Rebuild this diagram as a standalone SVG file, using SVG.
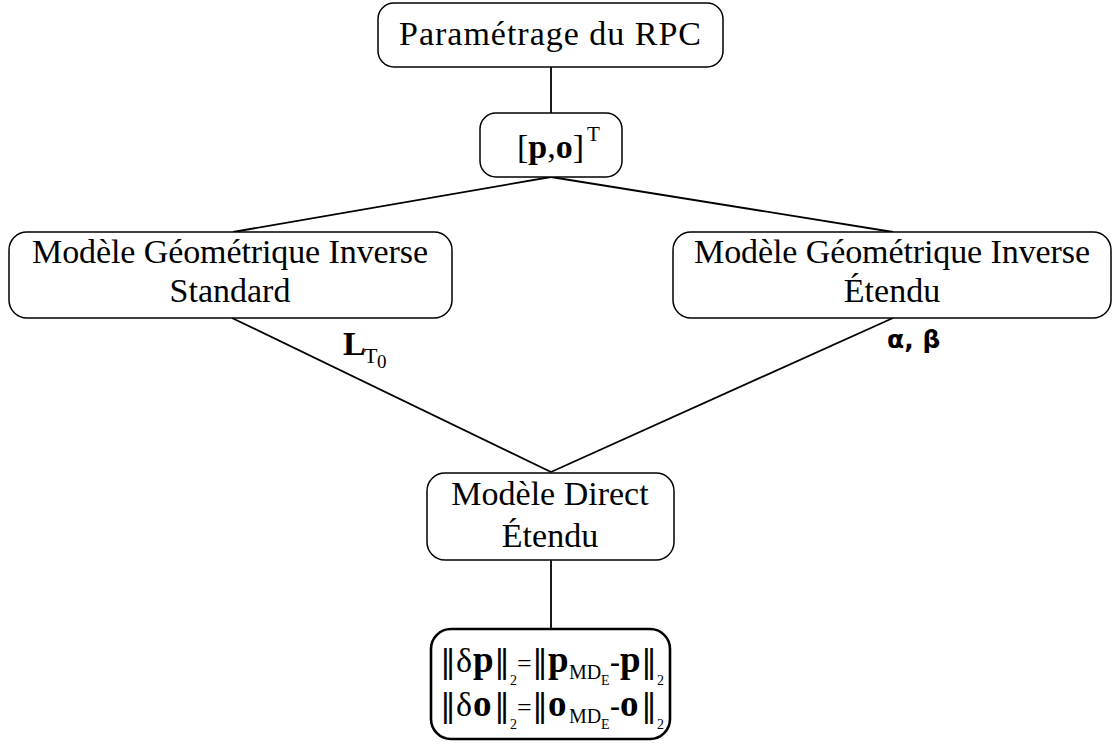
<svg xmlns="http://www.w3.org/2000/svg" width="1113" height="744" viewBox="0 0 1113 744">
<style>
.box{fill:#fff;stroke:#000;stroke-width:1.5}
.boxb{fill:#fff;stroke:#000;stroke-width:2.6}
.t{font-family:"Liberation Serif","DejaVu Serif",serif;font-size:34px;fill:#000}
.c{text-anchor:middle}
.b{font-weight:bold}
.n{font-family:"DejaVu Serif",serif;font-size:32px;font-weight:normal}
.s{font-size:14px}
.edge{stroke:#000;stroke-width:1.8;fill:none}
.g{font-family:"DejaVu Sans","Liberation Sans",sans-serif;font-size:25px;font-weight:bold;fill:#000}
</style>
<rect width="1113" height="744" fill="#fff"/>
<g id="connectors">
<line class="edge" x1="551" y1="67" x2="551" y2="113"/>
<line class="edge" x1="551" y1="177" x2="233" y2="232"/>
<line class="edge" x1="551" y1="177" x2="893" y2="232"/>
<line class="edge" x1="232" y1="318" x2="551" y2="472"/>
<line class="edge" x1="893" y1="318" x2="551" y2="472"/>
<line class="edge" x1="551" y1="560" x2="551" y2="629"/>
<text class="t b" x="343" y="355">L<tspan font-weight="normal" font-size="22" x="364" y="363">T</tspan><tspan font-weight="normal" font-size="19" x="377" y="368">0</tspan></text>
<text class="g" x="887" y="348">α, β</text>
</g>
<g id="n1">
<rect class="box" x="378" y="3" width="345" height="64" rx="16"/>
<text class="t c" x="550" y="45" textLength="302">Paramétrage du RPC</text>
</g>
<g id="n2">
<rect class="box" x="480" y="113" width="142" height="64" rx="16"/>
<text class="t" x="517" y="158" font-size="36">[<tspan class="b">p</tspan>,<tspan class="b">o</tspan>]<tspan font-size="21" x="587" y="141">T</tspan></text>
</g>
<g id="n3">
<rect class="box" x="9" y="232" width="443" height="86" rx="18"/>
<text class="t c" x="230" y="263" textLength="396">Modèle Géométrique Inverse</text>
<text class="t c" x="230" y="302">Standard</text>
</g>
<g id="n4">
<rect class="box" x="673" y="232" width="438" height="86" rx="18"/>
<text class="t c" x="892" y="263" textLength="396">Modèle Géométrique Inverse</text>
<text class="t c" x="892" y="302">Étendu</text>
</g>
<g id="n5">
<rect class="box" x="427" y="473" width="247" height="87" rx="18"/>
<text class="t c" x="550" y="505">Modèle Direct</text>
<text class="t c" x="550" y="547">Étendu</text>
</g>
<g id="n6">
<rect class="boxb" x="431" y="629" width="239" height="110" rx="20"/>
<text class="t" y="672"><tspan class="n" x="440">‖</tspan><tspan x="456">δ</tspan><tspan class="b" font-size="37" x="473">p</tspan><tspan class="n" x="494">‖</tspan><tspan class="s" x="510" y="685">2</tspan><tspan x="517" y="672" font-size="26">=</tspan><tspan class="n" x="532">‖</tspan><tspan class="b" font-size="37" x="548">p</tspan><tspan font-size="20" x="569" y="679">MD</tspan><tspan class="s" x="601" y="685">E</tspan><tspan class="b" font-size="30" x="610" y="672">-</tspan><tspan class="b" font-size="37" x="620">p</tspan><tspan class="n" x="641">‖</tspan><tspan class="s" x="657" y="685">2</tspan></text>
<text class="t" y="716"><tspan class="n" x="440">‖</tspan><tspan x="456">δ</tspan><tspan class="b" font-size="37" x="473">o</tspan><tspan class="n" x="494">‖</tspan><tspan class="s" x="510" y="729">2</tspan><tspan x="517" y="716" font-size="26">=</tspan><tspan class="n" x="532">‖</tspan><tspan class="b" font-size="37" x="548">o</tspan><tspan font-size="20" x="569" y="723">MD</tspan><tspan class="s" x="601" y="729">E</tspan><tspan class="b" font-size="30" x="610" y="716">-</tspan><tspan class="b" font-size="37" x="620">o</tspan><tspan class="n" x="641">‖</tspan><tspan class="s" x="657" y="729">2</tspan></text>
</g>
</svg>
